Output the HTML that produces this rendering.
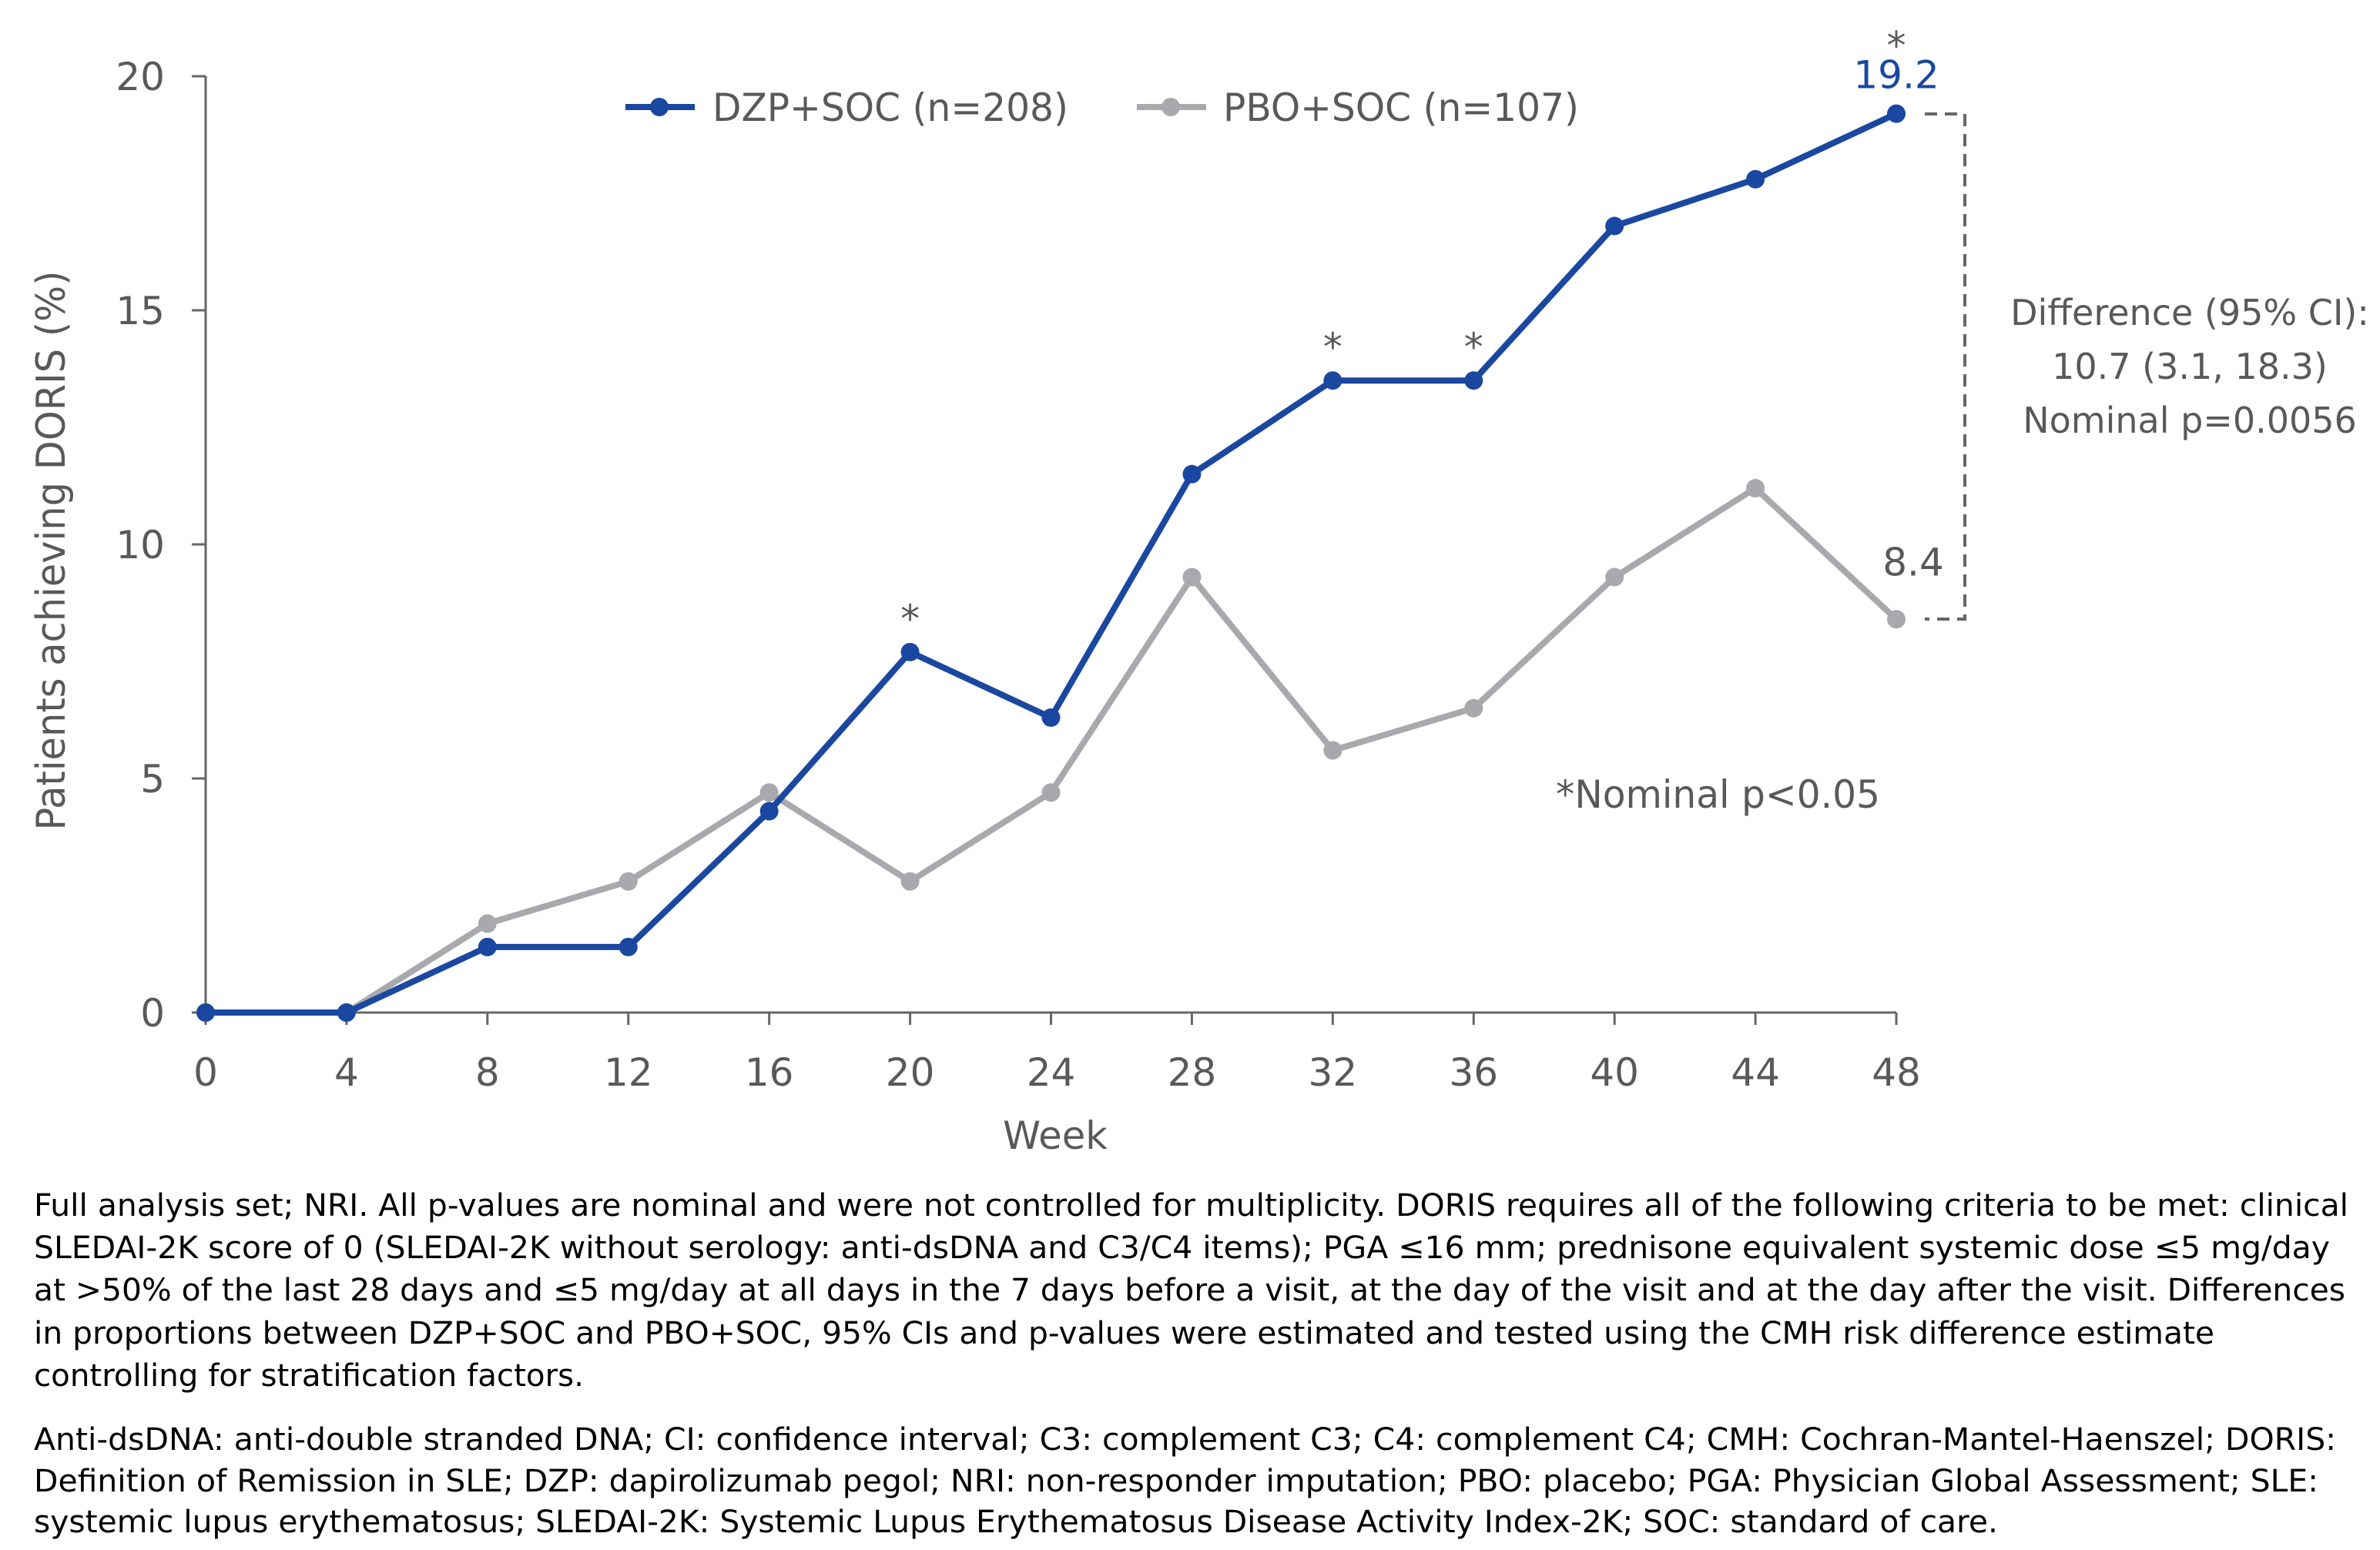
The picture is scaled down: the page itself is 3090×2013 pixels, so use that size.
<!DOCTYPE html>
<html><head><meta charset="utf-8"><style>
html,body{margin:0;padding:0;background:#fff;}
svg{display:block;font-family:"DejaVu Sans","Liberation Sans",sans-serif;}
</style></head><body>
<svg id="chart" width="3090" height="2013" viewBox="0 0 3090 2013" xmlns="http://www.w3.org/2000/svg">
<rect width="3090" height="2013" fill="#fff"/>
<g id="axes"></g>
<g id="series"></g>
<g id="legend">
  <line x1="812" y1="139" x2="902" y2="139" stroke="#1a47a0" stroke-width="8"/>
  <circle cx="856" cy="139" r="12" fill="#1a47a0"/>
  <text x="925" y="157" font-size="50" fill="#595959" textLength="462" lengthAdjust="spacingAndGlyphs">DZP+SOC (n=208)</text>
  <line x1="1476" y1="139" x2="1566" y2="139" stroke="#a8a9ad" stroke-width="8"/>
  <circle cx="1520" cy="139" r="12" fill="#a8a9ad"/>
  <text x="1588" y="157" font-size="50" fill="#595959" textLength="462" lengthAdjust="spacingAndGlyphs">PBO+SOC (n=107)</text>
</g>
<text transform="translate(84,715) rotate(-90)" text-anchor="middle" font-size="52" fill="#595959" textLength="727" lengthAdjust="spacingAndGlyphs">Patients achieving DORIS (%)</text>
<text x="1370" y="1492" text-anchor="middle" font-size="50" fill="#595959" textLength="136" lengthAdjust="spacingAndGlyphs">Week</text>
<g fill="#595959" font-size="46" text-anchor="middle">
  <text x="2843" y="422">Difference (95% CI):</text>
  <text x="2843" y="492">10.7 (3.1, 18.3)</text>
  <text x="2843" y="562">Nominal p=0.0056</text>
</g>
<path d="M2499 148 H2551 V804 H2499" fill="none" stroke="#666" stroke-width="4" stroke-dasharray="16 10"/>
<text x="2020" y="1049" font-size="50" fill="#595959" textLength="421" lengthAdjust="spacingAndGlyphs">*Nominal p&lt;0.05</text>
<g font-size="40" fill="#000">
  <text x="44" y="1579" textLength="3005" lengthAdjust="spacingAndGlyphs">Full analysis set; NRI. All p-values are nominal and were not controlled for multiplicity. DORIS requires all of the following criteria to be met: clinical</text>
  <text x="44" y="1634" textLength="2981" lengthAdjust="spacingAndGlyphs">SLEDAI-2K score of 0 (SLEDAI-2K without serology: anti-dsDNA and C3/C4 items); PGA ≤16 mm; prednisone equivalent systemic dose ≤5 mg/day</text>
  <text x="44" y="1689" textLength="3001" lengthAdjust="spacingAndGlyphs">at &gt;50% of the last 28 days and ≤5 mg/day at all days in the 7 days before a visit, at the day of the visit and at the day after the visit. Differences</text>
  <text x="44" y="1745" textLength="2831" lengthAdjust="spacingAndGlyphs">in proportions between DZP+SOC and PBO+SOC, 95% CIs and p-values were estimated and tested using the CMH risk difference estimate</text>
  <text x="44" y="1800" textLength="714" lengthAdjust="spacingAndGlyphs">controlling for stratification factors.</text>
  <text x="44" y="1883" textLength="2989" lengthAdjust="spacingAndGlyphs">Anti-dsDNA: anti-double stranded DNA; CI: confidence interval; C3: complement C3; C4: complement C4; CMH: Cochran-Mantel-Haenszel; DORIS:</text>
  <text x="44" y="1937" textLength="2966" lengthAdjust="spacingAndGlyphs">Definition of Remission in SLE; DZP: dapirolizumab pegol; NRI: non-responder imputation; PBO: placebo; PGA: Physician Global Assessment; SLE:</text>
  <text x="44" y="1990" textLength="2550" lengthAdjust="spacingAndGlyphs">systemic lupus erythematosus; SLEDAI-2K: Systemic Lupus Erythematosus Disease Activity Index-2K; SOC: standard of care.</text>
</g>
</svg>
<script>
const weeks = [0,4,8,12,16,20,24,28,32,36,40,44,48];
const dzpValues = [0,0,1.4,1.4,4.3,7.7,6.3,11.5,13.5,13.5,16.8,17.8,19.2];
const pboValues = [0,0,1.9,2.8,4.7,2.8,4.7,9.3,5.6,6.5,9.3,11.2,8.4];
const yTicks = [0,5,10,15,20];
const starWeeks = [20,32,36,48];

const NS = 'http://www.w3.org/2000/svg';
const X0 = 267, X1 = 2462, Y0 = 1315, Y1 = 99;
const xs = w => X0 + (w - 0) / 48 * (X1 - X0);
const ys = v => Y0 - v / 20 * (Y0 - Y1);
function mk(tag, attrs, parent){
  const e = document.createElementNS(NS, tag);
  for (const k in attrs) e.setAttribute(k, attrs[k]);
  parent.appendChild(e); return e;
}
const axes = document.getElementById('axes');
const series = document.getElementById('series');
const ax = '#666';
let el = mk('line',{x1:X0,y1:Y1,x2:X0,y2:Y0,stroke:ax,'stroke-width':3},axes);


el = mk('line',{x1:X0,y1:Y0,x2:X1,y2:Y0,stroke:ax,'stroke-width':3},axes);


yTicks.forEach(t => {
  mk('line',{x1:X0-18,y1:ys(t),x2:X0,y2:ys(t),stroke:ax,'stroke-width':3},axes);
  const tx = mk('text',{x:214,y:ys(t)+18,'text-anchor':'end','font-size':50,fill:'#595959'},axes);
  tx.textContent = t;
  
  
});
weeks.forEach(w => {
  mk('line',{x1:xs(w),y1:Y0,x2:xs(w),y2:Y0+16,stroke:ax,'stroke-width':3},axes);
  const tx = mk('text',{x:xs(w),y:1410,'text-anchor':'middle','font-size':50,fill:'#595959'},axes);
  tx.textContent = w;
  
  
});
function drawSeries(vals, color, name){
  const g = mk('g',{},series);
  
  
  const pts = vals.map((v,i) => xs(weeks[i]) + ',' + ys(v)).join(' ');
  const pl = mk('polyline',{points:pts,fill:'none',stroke:color,'stroke-width':8,'stroke-linejoin':'round'},g);
  
  
  vals.forEach((v,i) => {
    const c = mk('circle',{cx:xs(weeks[i]),cy:ys(v),r:12,fill:color},g);
    
    
  });
}
drawSeries(pboValues, '#a8a9ad', 'pbo-series');
drawSeries(dzpValues, '#1a47a0', 'dzp-series');
starWeeks.forEach(w => {
  const i = weeks.indexOf(w);
  const off = w === 48 ? 85 : 40;
  const s = mk('text',{x:xs(w),y:ys(dzpValues[i]) - off + 14,'text-anchor':'middle','font-size':50,fill:'#595959'},series);
  s.textContent = '*';
  
  
});
const last = weeks.length - 1;
el = mk('text',{x:xs(48),y:ys(dzpValues[last]) - 33,'text-anchor':'middle','font-size':50,fill:'#1a47a0'},series);
el.textContent = dzpValues[last].toFixed(1);


el = mk('text',{x:xs(48)+22,y:ys(pboValues[last]) - 57,'text-anchor':'middle','font-size':50,fill:'#595959'},series);
el.textContent = pboValues[last].toFixed(1);


</script>
</body></html>
